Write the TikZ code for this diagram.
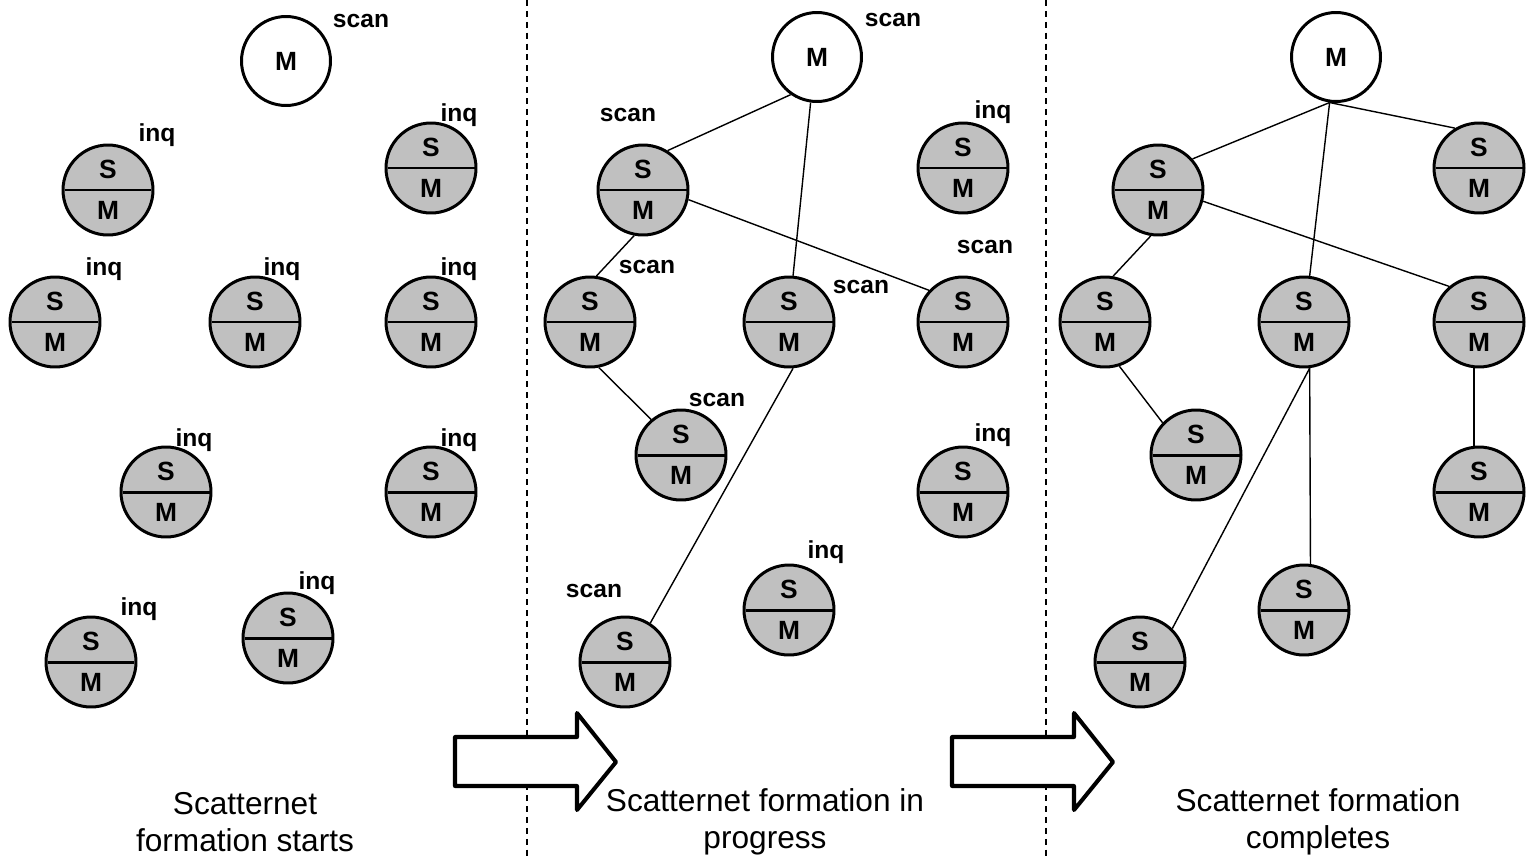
\documentclass[tikz,border=0pt]{standalone}
\usepackage{fontspec}
\setmainfont{Liberation Sans}
\usetikzlibrary{shapes.multipart}
\definecolor{slavefill}{RGB}{192,192,192}
\tikzstyle{master}=[circle, draw, line width=1.7pt, fill=white, minimum size=1.78cm, inner sep=0pt, font=\fontsize{15}{17}\selectfont\bfseries]
\tikzstyle{slave}=[circle split, draw, line width=1.7pt, fill=slavefill, minimum size=1.8cm, inner xsep=0pt, inner ysep=5.8pt, font=\fontsize{15}{17}\selectfont\bfseries]
\tikzstyle{tagtext}=[anchor=base, inner sep=0pt, font=\fontsize{14}{16}\selectfont\bfseries]
\tikzstyle{caption}=[align=center, inner sep=0pt, font=\fontsize{18}{21}\selectfont]
\tikzstyle{conn}=[line width=0.8pt]
\tikzstyle{phase}=[line width=2.3pt, line join=round, fill=white]

\begin{document}
\begin{tikzpicture}[x=0.02cm, y=-0.02cm]
  \useasboundingbox (0,0) rectangle (1528,859);

  %% Separators
  \draw[line width=0.85pt, dash pattern=on 3.4pt off 2.8pt] (527,0) -- (527,859);
  \draw[line width=0.85pt, dash pattern=on 3.4pt off 2.8pt] (1046,0) -- (1046,859);

  %% Starts
  \draw (286,61) node[master] (A0) {M};
  \draw (108,190) node[slave] (A1) {S\nodepart{lower}M};
  \draw (431,168) node[slave] (A2) {S\nodepart{lower}M};
  \draw (55,322) node[slave] (A3) {S\nodepart{lower}M};
  \draw (255,322) node[slave] (A4) {S\nodepart{lower}M};
  \draw (431,322) node[slave] (A5) {S\nodepart{lower}M};
  \draw (166,492) node[slave] (A6) {S\nodepart{lower}M};
  \draw (431,492) node[slave] (A7) {S\nodepart{lower}M};
  \draw (91,662) node[slave] (A8) {S\nodepart{lower}M};
  \draw (288,638) node[slave] (A9) {S\nodepart{lower}M};

  \draw (361,27) node[tagtext] {scan};
  \draw (157,141) node[tagtext] {inq};
  \draw (459,121) node[tagtext] {inq};
  \draw (104,275) node[tagtext] {inq};
  \draw (282,275) node[tagtext] {inq};
  \draw (459,275) node[tagtext] {inq};
  \draw (194,446) node[tagtext] {inq};
  \draw (459,446) node[tagtext] {inq};
  \draw (139,615) node[tagtext] {inq};
  \draw (317,589) node[tagtext] {inq};

  %% In progress
  \draw (817,57) node[master] (B0) {M};
  \draw (643,190) node[slave] (B1) {S\nodepart{lower}M};
  \draw (963,168) node[slave] (B2) {S\nodepart{lower}M};
  \draw (590,322) node[slave] (B3) {S\nodepart{lower}M};
  \draw (789,322) node[slave] (B4) {S\nodepart{lower}M};
  \draw (963,322) node[slave] (B5) {S\nodepart{lower}M};
  \draw (681,455) node[slave] (B6) {S\nodepart{lower}M};
  \draw (963,492) node[slave] (B7) {S\nodepart{lower}M};
  \draw (789,610) node[slave] (B8) {S\nodepart{lower}M};
  \draw (625,662) node[slave] (B9) {S\nodepart{lower}M};

  \draw (893,26) node[tagtext] {scan};
  \draw (628,121) node[tagtext] {scan};
  \draw (993,118) node[tagtext] {inq};
  \draw (647,273) node[tagtext] {scan};
  \draw (861,293) node[tagtext] {scan};
  \draw (985,253) node[tagtext] {scan};
  \draw (717,406) node[tagtext] {scan};
  \draw (993,441) node[tagtext] {inq};
  \draw (826,558) node[tagtext] {inq};
  \draw (594,597) node[tagtext] {scan};

  \draw[conn] (B0.235) -- (B1.58);
  \draw[conn] (B0.262) -- (B4.85);
  \draw[conn] (B1.348) -- (B5.137);
  \draw[conn] (B1.259) -- (B3.82);
  \draw[conn] (B3.281) -- (B6.130);
  \draw[conn] (B4.275) -- (B9.57);

  %% Completes
  \draw (1336,57) node[master] (C0) {M};
  \draw (1158,190) node[slave] (C1) {S\nodepart{lower}M};
  \draw (1479,168) node[slave] (C2) {S\nodepart{lower}M};
  \draw (1105,322) node[slave] (C3) {S\nodepart{lower}M};
  \draw (1304,322) node[slave] (C4) {S\nodepart{lower}M};
  \draw (1479,322) node[slave] (C5) {S\nodepart{lower}M};
  \draw (1196,455) node[slave] (C6) {S\nodepart{lower}M};
  \draw (1479,492) node[slave] (C7) {S\nodepart{lower}M};
  \draw (1304,610) node[slave] (C8) {S\nodepart{lower}M};
  \draw (1140,662) node[slave] (C9) {S\nodepart{lower}M};

  \draw[conn] (C0.262) -- (C1.42);
  \draw[conn] (C0.262) -- (C2.121);
  \draw[conn] (C0.262) -- (C4.83);
  \draw[conn] (C1.346) -- (C5.130);
  \draw[conn] (C1.261) -- (C3.80);
  \draw[conn] (C3.288) -- (C6.136);
  \draw[conn] (C4.277) -- (C9.46);
  \draw[conn] (C4.277) -- (C8.82);
  \draw[conn] (C5.264) -- (C7.96);

  %% Phase arrows
  \draw[phase] (455,737) -- (577,737) -- (577,713) -- (616,762) -- (577,810) -- (577,786) -- (455,786) -- cycle;
  \draw[phase] (952,737) -- (1074,737) -- (1074,713) -- (1113,762) -- (1074,810) -- (1074,786) -- (952,786) -- cycle;

  %% Captions
  \draw (245,822) node[caption] (T1) {Scatternet\\formation starts};
  \draw (765,822) node[caption] (T2) {Scatternet formation in\\progress};
  \draw (1318,822) node[caption] (T3) {Scatternet formation\\completes};
\end{tikzpicture}
\end{document}
